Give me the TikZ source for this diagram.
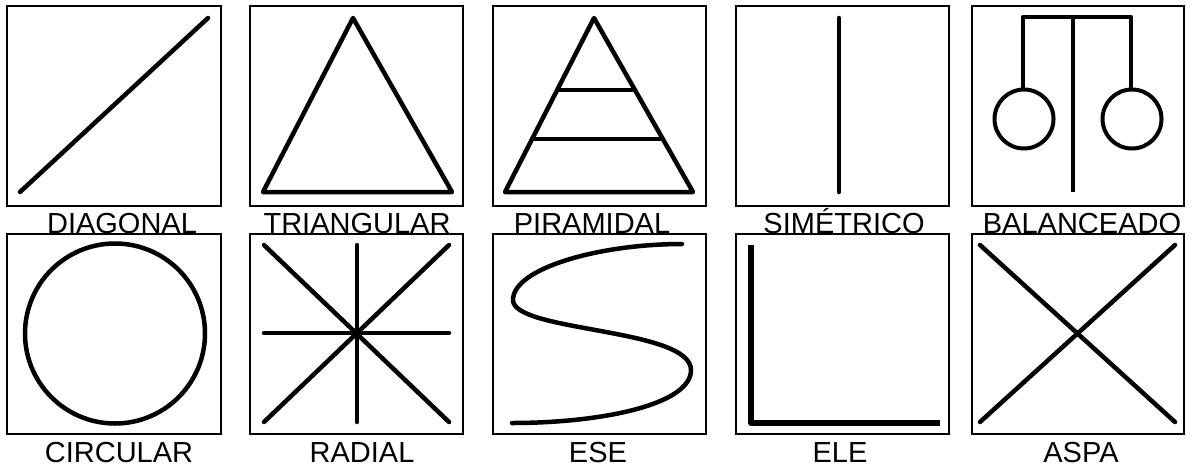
\documentclass[tikz,border=0pt]{standalone}
\usepackage{fontspec}
\setmainfont{Liberation Sans}
\begin{document}
\begin{tikzpicture}[x=1pt,y=-1pt,
  frame/.style={draw=black,line width=2.2pt},
  figline/.style={draw=black,line width=4.5pt,line cap=round,line join=round},
  lbl/.style={font=\fontsize{29}{30}\selectfont,anchor=base,inner sep=0pt,text=black}]
\useasboundingbox[fill=white] (0,0) rectangle (1196,472);
% frames
\draw[frame] (7,6) rectangle (221,206);
\draw[frame] (250,6) rectangle (463,206);
\draw[frame] (493,6) rectangle (706,206);
\draw[frame] (736,6) rectangle (949,206);
\draw[frame] (972,6) rectangle (1184,206);
\draw[frame] (7,234) rectangle (221,434);
\draw[frame] (250,234) rectangle (463,434);
\draw[frame] (493,234) rectangle (706,434);
\draw[frame] (736,234) rectangle (949,434);
\draw[frame] (972,234) rectangle (1184,434);
% DIAGONAL
\draw[figline] (20,192) -- (208,18);
% TRIANGULAR
\draw[figline] (353,18) -- (452,192) -- (263,192) -- cycle;
% PIRAMIDAL
\draw[figline] (594,18) -- (693,192) -- (505,192) -- cycle;
\draw[figline,line width=4pt] (559,90) -- (632,90);
\draw[figline,line width=4pt] (535,139) -- (660,139);
% SIMETRICO
\draw[figline] (839,18) -- (839,192);
% BALANCEADO
\draw[figline,line cap=butt] (1073,192) -- (1073,17);
\draw[figline,line cap=butt] (1023,89) -- (1023,17) -- (1131,17) -- (1131,89);
\draw[figline,line width=4pt] (1024,119) circle (29.5);
\draw[figline,line width=4pt] (1132,119) circle (29.5);
% CIRCULAR
\draw[figline] (115,333.5) circle (90);
% RADIAL
\draw[figline] (264,245) -- (449,422);
\draw[figline] (449,245) -- (264,422);
\draw[figline] (357,245) -- (357,422);
\draw[figline] (264,333) -- (449,333);
% ESE
\draw[figline] (682,244) .. controls (600,244) and (513,268) .. (513,300)
  .. controls (513,332) and (691,328) .. (691,370)
  .. controls (691,405) and (600,423) .. (512,423);
% ELE
\draw[figline,line width=5.5pt,line cap=butt] (751,245) -- (751,423) -- (940,423);
% ASPA
\draw[figline] (980,245) -- (1175,422);
\draw[figline] (1175,245) -- (980,422);
% labels
\node[lbl] (l1) at (122,233) {DIAGONAL};
\node[lbl] (l2) at (357,233) {TRIANGULAR};
\node[lbl] (l3) at (592,233) {PIRAMIDAL};
\node[lbl] (l4) at (844,233) {SIMÉTRICO};
\node[lbl] (l5) at (1082,233) {BALANCEADO};
\node[lbl] (l6) at (119,462) {CIRCULAR};
\node[lbl] (l7) at (362,462) {RADIAL};
\node[lbl] (l8) at (598,462) {ESE};
\node[lbl] (l9) at (840,462) {ELE};
\node[lbl] (l10) at (1081,462) {ASPA};
\end{tikzpicture}
\end{document}
